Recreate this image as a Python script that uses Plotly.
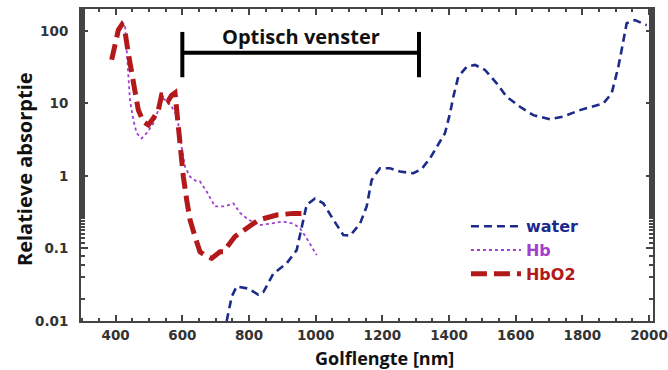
import math
import plotly.graph_objects as go

# Water absorption (blue dashed)
water_nm = [733, 748, 763, 798, 828, 843, 873, 913, 943, 958, 973, 998, 1023, 1053, 1083, 1103,
            1133, 1153, 1168, 1193, 1223, 1253, 1293, 1318, 1343, 1363, 1388, 1403, 1413, 1428,
            1453, 1478, 1508, 1543, 1573, 1613, 1653, 1703, 1743, 1793, 1833, 1863, 1888, 1908,
            1918, 1928, 1933, 1958, 1993]
water_val = [0.01, 0.0216, 0.030, 0.028, 0.023, 0.025, 0.045, 0.0625, 0.095, 0.2, 0.40, 0.49, 0.42,
             0.25, 0.153, 0.15, 0.22, 0.38, 0.88, 1.28, 1.28, 1.15, 1.09, 1.25, 1.75, 2.5, 3.9, 7.3,
             12.4, 23.5, 32, 34, 29, 19, 12.4, 9, 6.9, 6.05, 6.6, 8.1, 9.2, 10, 13.8, 32, 55, 93,
             128, 141, 120]

# Deoxy-haemoglobin (purple dotted)
hb_nm = [418, 428, 433, 438, 443, 453, 463, 478, 493, 513, 528, 538, 553, 568, 583, 593, 598, 608,
         623, 643, 653, 673, 698, 728, 753, 773, 798, 833, 863, 903, 933, 953, 973, 988, 1003]
hb_val = [134, 121, 55, 23, 11, 5.9, 3.9, 3.3, 3.9, 5.3, 8.1, 11.8, 11, 9, 6.9, 3.9, 2.5, 1.34,
          0.98, 0.84, 0.84, 0.61, 0.38, 0.38, 0.42, 0.31, 0.25, 0.21, 0.22, 0.235, 0.22, 0.19,
          0.138, 0.106, 0.081]

# Oxy-haemoglobin (red long dash)
hbo2_nm = [388, 398, 408, 418, 428, 438, 448, 458, 468, 483, 498, 513, 528, 538, 548, 558, 568,
           578, 583, 593, 598, 603, 613, 623, 638, 653, 668, 688, 713, 723, 758, 793, 828, 883,
           933, 978]
hbo2_val = [40, 68, 103, 121, 98, 49, 26, 13.8, 8.1, 5.6, 5.05, 6.25, 8.1, 13.1, 13, 11, 13, 14,
            8.1, 3.9, 2.05, 0.98, 0.47, 0.25, 0.146, 0.09, 0.081, 0.073, 0.09, 0.09, 0.146, 0.19,
            0.247, 0.29, 0.305, 0.305]

window_nm = [600, 1310]
window_level = 50
window_bar = [23, 97]
window_label_level = 83

x_ticks = [400, 600, 800, 1000, 1200, 1400, 1600, 1800, 2000]
y_ticks = [0.01, 0.1, 1, 10, 100]
y_ticktext = ["0.01", "0.1", "1", "10", "100"]

TICKFONT = "DejaVu Sans"
LABELFONT = "Open Sans"

fig = go.Figure()
fig.add_trace(go.Scatter(x=water_nm, y=water_val, mode="lines",
                         name="<b><span style='color:#1c2a8a'>water</span></b>",
                         line=dict(color="#1c2a8a", width=2.6, dash="8px,5px")))
fig.add_trace(go.Scatter(x=hb_nm, y=hb_val, mode="lines",
                         name="<b><span style='color:#a23ed0'>Hb</span></b>",
                         line=dict(color="#a23ed0", width=1.8, dash="dot")))
fig.add_trace(go.Scatter(x=hbo2_nm, y=hbo2_val, mode="lines",
                         name="<b><span style='color:#b3191b'>HbO2</span></b>",
                         line=dict(color="#b3191b", width=5, dash="16px,7px")))

# Optical window bracket
fig.add_shape(type="line", x0=window_nm[0], x1=window_nm[1], y0=window_level, y1=window_level,
              line=dict(color="black", width=4))
for xv in window_nm:
    fig.add_shape(type="line", x0=xv, x1=xv, y0=window_bar[0], y1=window_bar[1],
                  line=dict(color="black", width=4))
fig.add_annotation(x=sum(window_nm) / 2, y=math.log10(window_label_level), yref="y", xref="x",
                   text="<b>Optisch venster</b>", showarrow=False,
                   font=dict(family=LABELFONT, size=20, color="#111"))

# axis titles
fig.add_annotation(x=0.53, y=-0.118, xref="paper", yref="paper", yanchor="middle",
                   text="<b>Golflengte [nm]</b>", showarrow=False,
                   font=dict(family=LABELFONT, size=18, color="#111"))
fig.add_annotation(x=-0.0997, y=0.487, xref="paper", yref="paper", xanchor="center", yanchor="middle",
                   textangle=-90, text="<b>Relatieve absorptie</b>", showarrow=False,
                   font=dict(family=LABELFONT, size=20, color="#111"))

axis_common = dict(showline=True, linecolor="#444", linewidth=2, mirror="allticks",
                   ticks="inside", tickcolor="#444", showgrid=False, zeroline=False,
                   ticklabeloverflow="allow", automargin=False,
                   tickfont=dict(family=TICKFONT, size=13.5, color="#333"))

fig.update_xaxes(range=[296, 2012], tickvals=x_ticks, ticktext=["<b>%d</b>" % v for v in x_ticks],
                 ticklen=6, tickwidth=1.5, ticklabelstandoff=1,
                 minor=dict(dtick=50, ticks="inside", ticklen=3, tickcolor="#444", showgrid=False),
                 **axis_common)
fig.update_yaxes(type="log", range=[-2, 2.303], tickvals=y_ticks,
                 ticktext=["<b>%s</b>" % t for t in y_ticktext],
                 ticklen=7, tickwidth=1.5, ticklabelstandoff=8,
                 minor=dict(ticks="inside", ticklen=4, tickcolor="#444", showgrid=False),
                 **axis_common)

fig.update_layout(
    width=668, height=370,
    margin=dict(l=81, r=15, t=9, b=49, autoexpand=False),
    paper_bgcolor="white", plot_bgcolor="white",
    legend=dict(x=0.673, y=0.358, xanchor="left", yanchor="top", bgcolor="rgba(0,0,0,0)",
                font=dict(family=TICKFONT, size=16), tracegroupgap=0, itemwidth=50),
    showlegend=True,
)

fig.write_html("out.html")
